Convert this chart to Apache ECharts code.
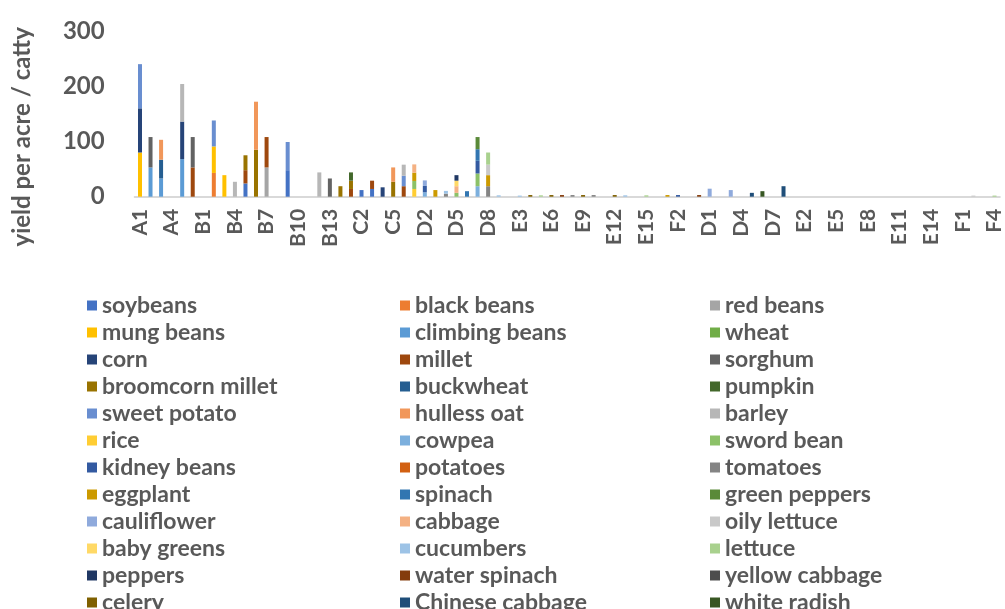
<!DOCTYPE html>
<html>
<head>
<meta charset="utf-8">
<script src="https://cdn.jsdelivr.net/npm/echarts@6/dist/echarts.min.js"></script>
<style>
  html, body { margin: 0; padding: 0; background: #fff; }
  #chart { width: 1005px; height: 609px; }
</style>
</head>
<body>
<div id="chart"></div>
<script>
// Sample plots along the x axis
const categories = [
  'A1','A2','A3','A4','A5','A6',
  'B1','B2','B3','B4','B5','B6','B7','B8','B9','B10','B11','B12','B13','B14',
  'C1','C2','C3','C4','C5','C6',
  'D1','D2','D3','D4','D5','D6','D7','D8',
  'E1','E2','E3','E4','E5','E6','E7','E8','E9','E10','E11','E12','E13','E14','E15','E16',
  'F1','F2','F3','F4',
  'D1','D2','D3','D4','D5','D6','D7','D8',
  'E1','E2','E3','E4','E5','E6','E7','E8','E9','E10','E11','E12','E13','E14','E15','E16',
  'F1','F2','F3','F4'
];

const yTicks = [0, 100, 200, 300];

// Yield per acre for each crop as [plot index, catty] pairs (plots without a value are empty)
const soybeans        = [[10, 24], [14, 48], [21, 12], [22, 14]];
const blackBeans      = [[7, 43]];
const redBeans        = [[12, 53]];
const mungBeans       = [[0, 80], [7, 48], [8, 39]];
const climbingBeans   = [[1, 53], [2, 33], [4, 68]];
const wheat           = [];
const corn            = [[0, 80], [4, 68], [23, 17]];
const millet          = [[5, 53], [10, 24], [12, 55], [20, 14], [22, 15], [25, 19]];
const sorghum         = [[1, 55], [5, 55], [18, 33]];
const broomcornMillet = [[10, 27], [11, 85], [19, 19], [20, 15], [24, 27]];
const buckwheat       = [[2, 34]];
const pumpkin         = [[20, 15]];
const sweetPotato     = [[0, 80], [7, 47], [14, 51], [25, 19]];
const hullessOat      = [[2, 36], [11, 87], [24, 26]];
const barley          = [[4, 68], [9, 27], [17, 44], [25, 20]];
const rice            = [[26, 14]];
const cowpea          = [[27, 8], [32, 19]];
const swordBean       = [[26, 14.5], [30, 7], [32, 23]];
const kidneyBeans     = [[27, 11.5], [32, 23], [51, 3]];
const potatoes        = [];
const tomatoes        = [[29, 5.5], [33, 19], [41, 3], [43, 3]];
const eggplant        = [[26, 15], [28, 12], [33, 20], [50, 3]];
const spinach         = [[31, 10], [32, 21]];
const greenPeppers    = [[32, 22]];
const cauliflower     = [[27, 10], [54, 14.5], [56, 12]];
const cabbage         = [[26, 15], [30, 12]];
const oilyLettuce     = [[33, 19], [79, 2]];
const babyGreens      = [[30, 10]];
const cucumbers       = [[29, 5], [34, 2.5], [36, 2], [46, 2.5]];
const lettuce         = [[33, 22], [38, 2.5], [48, 2.5], [81, 2]];
const peppers         = [[30, 10]];
const waterSpinach    = [[40, 3], [53, 3]];
const yellowCabbage   = [];
const celery          = [[37, 3], [39, 3], [42, 3], [45, 3]];
const chineseCabbage  = [[58, 7], [61, 19]];
const whiteRadish     = [[59, 10]];

const cropNames = [
  'soybeans', 'black beans', 'red beans',
  'mung beans', 'climbing beans', 'wheat',
  'corn', 'millet', 'sorghum',
  'broomcorn millet', 'buckwheat', 'pumpkin',
  'sweet potato', 'hulless oat', 'barley',
  'rice', 'cowpea', 'sword bean',
  'kidney beans', 'potatoes', 'tomatoes',
  'eggplant', 'spinach', 'green peppers',
  'cauliflower', 'cabbage', 'oily lettuce',
  'baby greens', 'cucumbers', 'lettuce',
  'peppers', 'water spinach', 'yellow cabbage',
  'celery', 'Chinese cabbage', 'white radish'
];

const cropValues = [
  soybeans, blackBeans, redBeans,
  mungBeans, climbingBeans, wheat,
  corn, millet, sorghum,
  broomcornMillet, buckwheat, pumpkin,
  sweetPotato, hullessOat, barley,
  rice, cowpea, swordBean,
  kidneyBeans, potatoes, tomatoes,
  eggplant, spinach, greenPeppers,
  cauliflower, cabbage, oilyLettuce,
  babyGreens, cucumbers, lettuce,
  peppers, waterSpinach, yellowCabbage,
  celery, chineseCabbage, whiteRadish
];

const cropColors = [
  '#4472C4', '#ED7D31', '#A5A5A5',
  '#FFC000', '#5B9BD5', '#70AD47',
  '#264478', '#9E480E', '#636363',
  '#997300', '#255E91', '#43682B',
  '#698ED0', '#F1975A', '#B7B7B7',
  '#FFCD33', '#7CAFDD', '#8CC168',
  '#335AA1', '#D26012', '#848484',
  '#CC9A00', '#3276B1', '#5A8A39',
  '#8FAADC', '#F4B183', '#C9C9C9',
  '#FFD966', '#9DC3E6', '#A9D18E',
  '#203864', '#843C0C', '#4D4D4D',
  '#7F6000', '#1F4E79', '#385723'
];

// Expand the sparse pairs into one value per plot
function toRow(pairs) {
  const row = categories.map(() => 0);
  pairs.forEach(([i, v]) => { row[i] = v; });
  return row;
}

const FONT = 'Lato';
const TEXT_COLOR = '#595959';

const series = cropNames.map((name, k) => ({
  name: name,
  type: 'bar',
  stack: 'yield',
  barWidth: 4,
  itemStyle: { color: cropColors[k] },
  emphasis: { disabled: true },
  data: toRow(cropValues[k])
}));

// Three legend columns, filled row by row
const legendLefts = [87, 400, 710];
const legends = legendLefts.map((left, col) => ({
  orient: 'vertical',
  left: left,
  top: 294,
  height: 420,
  padding: 0,
  itemWidth: 10,
  itemHeight: 10,
  itemGap: 4,
  icon: 'rect',
  selectedMode: false,
  textStyle: { fontFamily: FONT, fontSize: 23, fontWeight: 'bold', color: TEXT_COLOR },
  data: cropNames.filter((_, k) => k % 3 === col)
}));

const chart = echarts.init(document.getElementById('chart'), null, { renderer: 'canvas' });
chart.setOption({
  animation: false,
  backgroundColor: '#ffffff',
  grid: { left: 134.7, right: 3.5, top: 31, bottom: 412.3, containLabel: false },
  legend: legends,
  xAxis: {
    type: 'category',
    data: categories,
    axisLine: { show: true, lineStyle: { color: '#D9D9D9', width: 2 } },
    axisTick: { show: false },
    axisLabel: {
      interval: 2,
      rotate: 90,
      margin: 12,
      fontFamily: FONT,
      fontSize: 21,
      fontWeight: 'bold',
      color: TEXT_COLOR
    }
  },
  yAxis: {
    type: 'value',
    min: yTicks[0],
    max: yTicks[yTicks.length - 1],
    interval: 100,
    name: 'yield per acre / catty',
    nameLocation: 'middle',
    nameGap: 100,
    nameTextStyle: { fontFamily: FONT, fontSize: 24, fontWeight: 'bold', color: TEXT_COLOR, padding: [0, 46, 0, 0] },
    axisLine: { show: false },
    axisTick: { show: false },
    splitLine: { show: false },
    axisLabel: {
      margin: 30,
      fontFamily: FONT,
      fontSize: 24,
      fontWeight: 'bold',
      color: TEXT_COLOR
    }
  },
  series: series
});
</script>
</body>
</html>
